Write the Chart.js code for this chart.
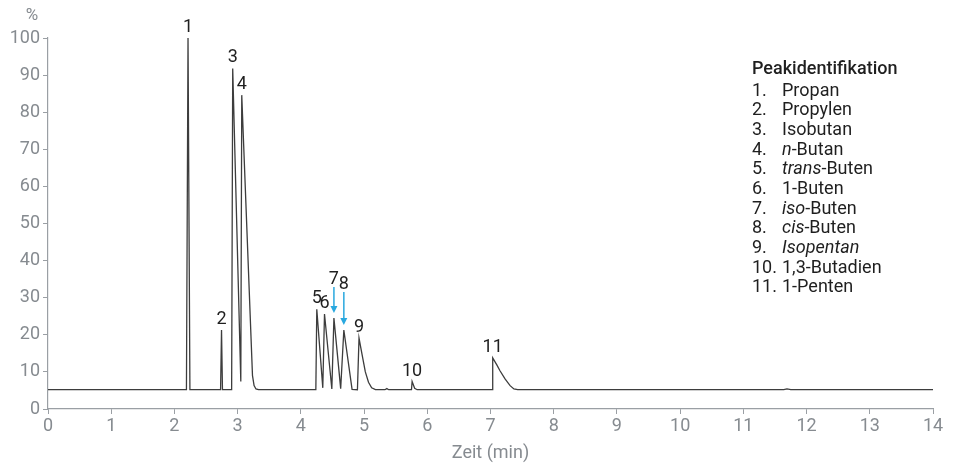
<!DOCTYPE html>
<html>
<head>
<meta charset="utf-8">
<script src="https://cdn.jsdelivr.net/npm/chart.js@4/dist/chart.umd.min.js"></script>
<style>
  html, body { margin: 0; padding: 0; background: #fff; }
  #wrap { width: 956px; height: 467px; position: relative; }
</style>
</head>
<body>
<div id="wrap"><canvas id="chrom"></canvas></div>
<script>
// retention time (min) and detector signal (%)
const timeMin = [
  0, 2.19, 2.215, 2.245,
  2.73, 2.745, 2.76,
  2.905, 2.922, 3.05, 3.065, 3.235, 3.26, 3.29, 3.33,
  4.237, 4.252, 4.347, 4.374, 4.49, 4.523, 4.63, 4.68, 4.81,
  4.895, 4.92, 4.97, 5.02, 5.07, 5.12, 5.18,
  5.33, 5.36, 5.39,
  5.75, 5.76, 5.80, 5.84,
  7.025, 7.035, 7.10, 7.15, 7.23, 7.31, 7.37, 7.43,
  11.64, 11.69, 11.75, 14
];
const signal = [
  5.2, 5.2, 100, 5.2,
  5.2, 21.3, 5.2,
  5.2, 91.8, 7.4, 84.6, 9.0, 6.3, 5.4, 5.2,
  5.2, 26.9, 5.7, 25.6, 5.4, 24.5, 5.5, 21.3, 5.3,
  5.2, 19.1, 14.5, 10.0, 7.2, 5.7, 5.2,
  5.2, 5.5, 5.2,
  5.2, 7.4, 5.6, 5.2,
  5.2, 13.8, 11.9, 10.3, 8.1, 6.3, 5.4, 5.2,
  5.2, 5.4, 5.2, 5.2
];

const peakNumbers = ['1', '2', '3', '4', '5', '6', '7', '8', '9', '10', '11'];
const peakTimes = [2.215, 2.745, 2.922, 3.065, 4.252, 4.374, 4.523, 4.68, 4.92, 5.76, 7.035];
const peakNames = [
  'Propan', 'Propylen', 'Isobutan', '*n*-Butan', '*trans*-Buten', '1-Buten',
  '*iso*-Buten', '*cis*-Buten', '*Isopentan*', '1,3-Butadien', '1-Penten'
];

const xTicks = [0, 14, 1];
const yTicks = [0, 100, 10];

const FONT = 'Roboto, "Noto Sans", sans-serif';
const GREY = '#868b90';
const AXIS = '#9a9fa4';
const INK = '#1f1f1f';
const ARROW = '#29a8df';

const annotate = {
  id: 'annotate',
  afterDraw(chart) {
    const { ctx, scales: { x, y } } = chart;
    ctx.save();

    // axis captions
    ctx.fillStyle = GREY;
    ctx.font = '17px ' + FONT;
    ctx.textAlign = 'center';
    ctx.textBaseline = 'alphabetic';
    ctx.fillText('%', 32, 20);
    ctx.font = '18px ' + FONT;
    ctx.fillText('Zeit (min)', (x.left + x.right) / 2, 458);

    // peak numbers
    ctx.fillStyle = INK;
    ctx.font = '18px ' + FONT;
    peakNumbers.forEach((label, i) => {
      const idx = timeMin.indexOf(peakTimes[i]);
      const px = x.getPixelForValue(peakTimes[i]);
      const py = y.getPixelForValue(signal[idx]);
      let lift = 6;
      if (label === '7') lift = 34;
      if (label === '8') lift = 41;
      ctx.fillText(label, px, py - lift);
      if (lift > 6) {
        const top = py - lift + 3;
        const tip = py - 5;
        ctx.strokeStyle = ARROW;
        ctx.fillStyle = ARROW;
        ctx.lineWidth = 1.5;
        ctx.beginPath();
        ctx.moveTo(px, top);
        ctx.lineTo(px, tip - 5);
        ctx.stroke();
        ctx.beginPath();
        ctx.moveTo(px - 3.5, tip - 7);
        ctx.lineTo(px + 3.5, tip - 7);
        ctx.lineTo(px, tip);
        ctx.closePath();
        ctx.fill();
        ctx.fillStyle = INK;
      }
    });

    // peak identification list
    const lx = 752, nx = 782;
    ctx.textAlign = 'left';
    ctx.fillStyle = INK;
    ctx.font = '500 18px ' + FONT;
    ctx.fillText('Peakidentifikation', lx, 73.6);
    peakNames.forEach((name, i) => {
      const by = 95.6 + i * 19.68;
      ctx.font = '18px ' + FONT;
      ctx.fillText(peakNumbers[i] + '.', lx, by);
      let cx = nx;
      name.split('*').forEach((part, k) => {
        if (!part) return;
        ctx.font = (k % 2 ? 'italic ' : '') + '18px ' + FONT;
        ctx.fillText(part, cx, by);
        cx += ctx.measureText(part).width;
      });
    });
    ctx.restore();
  }
};

new Chart(document.getElementById('chrom'), {
  type: 'line',
  data: {
    datasets: [{
      data: timeMin.map((t, i) => ({ x: t, y: signal[i] })),
      borderColor: '#3d3d3d',
      borderWidth: 1.3,
      pointRadius: 0,
      tension: 0,
      fill: false
    }]
  },
  options: {
    responsive: true,
    maintainAspectRatio: false,
    animation: false,
    layout: { padding: { top: 38, right: 23, left: 0, bottom: 0 } },
    plugins: { legend: { display: false }, tooltip: { enabled: false } },
    scales: {
      x: {
        type: 'linear',
        min: xTicks[0],
        max: xTicks[1],
        afterFit: s => { s.height = 58; },
        ticks: { stepSize: xTicks[2], color: GREY, font: { size: 18, family: FONT }, padding: 2 },
        grid: { drawOnChartArea: false, drawTicks: true, tickLength: 5, color: AXIS },
        border: { color: AXIS, width: 1.2 }
      },
      y: {
        min: yTicks[0],
        max: yTicks[1],
        afterFit: s => { s.width = 48; },
        ticks: { stepSize: yTicks[2], color: GREY, font: { size: 18, family: FONT }, padding: 3 },
        grid: { drawOnChartArea: false, drawTicks: true, tickLength: 5, color: AXIS },
        border: { color: AXIS, width: 1.2 }
      }
    }
  },
  plugins: [annotate]
});
</script>
</body>
</html>
